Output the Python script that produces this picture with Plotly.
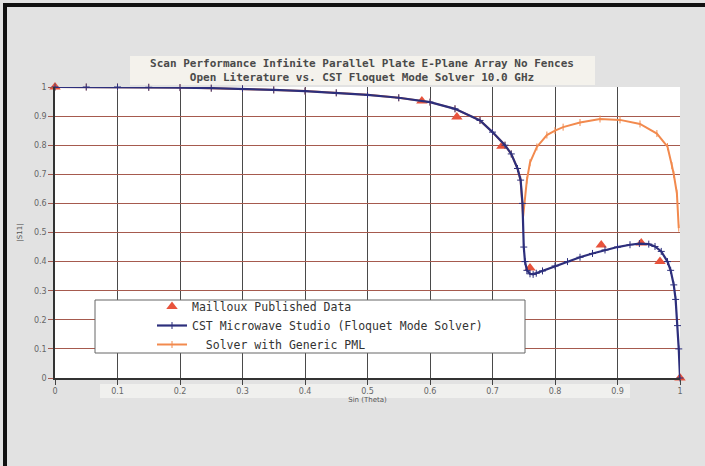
import plotly.graph_objects as go

# ---- data ----
cst_x = [0, 0.05, 0.1, 0.15, 0.2, 0.25, 0.3, 0.35, 0.4, 0.45, 0.5, 0.55, 0.6, 0.64,
         0.68, 0.7, 0.72, 0.73, 0.74, 0.745, 0.748, 0.75, 0.752, 0.755, 0.76, 0.765,
         0.77, 0.78, 0.8, 0.82, 0.84, 0.86, 0.88, 0.9, 0.92, 0.935, 0.95, 0.96, 0.97,
         0.98, 0.985, 0.99, 0.993, 0.996, 0.998, 1.0]
cst_y = [1.0, 1.0, 1.0, 0.999, 0.998, 0.996, 0.994, 0.99, 0.986, 0.98, 0.973, 0.963,
         0.948, 0.925, 0.885, 0.845, 0.80, 0.77, 0.72, 0.68, 0.60, 0.45, 0.40, 0.37,
         0.358, 0.356, 0.36, 0.368, 0.385, 0.40, 0.415, 0.428, 0.44, 0.45, 0.458,
         0.462, 0.46, 0.452, 0.435, 0.40, 0.37, 0.32, 0.27, 0.18, 0.1, 0.0]

pml_x = [0, 0.05, 0.1, 0.15, 0.2, 0.25, 0.3, 0.35, 0.4, 0.45, 0.5, 0.55, 0.6, 0.64,
         0.68, 0.7, 0.72, 0.73, 0.74, 0.745, 0.749, 0.755, 0.76, 0.771, 0.787, 0.8,
         0.813, 0.84, 0.872, 0.904, 0.936, 0.963, 0.98, 0.987, 0.99, 0.995, 0.998]
pml_y = [1.0, 1.0, 1.0, 0.999, 0.998, 0.996, 0.994, 0.99, 0.986, 0.98, 0.973, 0.963,
         0.948, 0.925, 0.885, 0.845, 0.80, 0.77, 0.72, 0.68, 0.555, 0.68, 0.74, 0.794,
         0.835, 0.85, 0.862, 0.878, 0.89, 0.887, 0.873, 0.84, 0.795, 0.73, 0.70,
         0.635, 0.515]

mail_x = [0.0, 0.587, 0.643, 0.715, 0.76, 0.874, 0.938, 0.968, 1.0]
mail_y = [1.0, 0.952, 0.897, 0.796, 0.378, 0.457, 0.464, 0.40, 0.0]

x_ticks = [0, 0.1, 0.2, 0.3, 0.4, 0.5, 0.6, 0.7, 0.8, 0.9, 1]
x_tick_labels = ["0", "0.1", "0.2", "0.3", "0.4", "0.5", "0.6", "0.7", "0.8", "0.9", "1"]
y_ticks = [0, 0.1, 0.2, 0.3, 0.4, 0.5, 0.6, 0.7, 0.8, 0.9, 1]
y_tick_labels = ["0", "0.1", "0.2", "0.3", "0.4", "0.5", "0.6", "0.7", "0.8", "0.9", "1"]

title_lines = ["Scan Performance Infinite Parallel Plate E-Plane Array No Fences",
               "Open Literature vs. CST Floquet Mode Solver 10.0 GHz"]

# ---- figure ----
W, H = 705, 466
L, R, T, B = 55, 25, 87, 88
pw, ph = W - L - R, H - T - B


def px(p):
    return (p - L) / pw


def py(p):
    return (H - B - p) / ph


fig = go.Figure()

fig.add_trace(go.Scatter(
    x=mail_x, y=mail_y, mode="markers", name="Mailloux Published Data",
    marker=dict(symbol="triangle-up", size=10, color="#e8533c"),
    cliponaxis=False))

fig.add_trace(go.Scatter(
    x=pml_x, y=pml_y, mode="lines+markers", name="Solver with Generic PML",
    line=dict(color="#f28a4e", width=2),
    marker=dict(symbol="line-ns", size=5, line=dict(color="#f28a4e", width=1)),
    cliponaxis=False, showlegend=False))

fig.add_trace(go.Scatter(
    x=cst_x, y=cst_y, mode="lines+markers",
    name="CST Microwave Studio (Floquet Mode Solver)",
    line=dict(color="#2d2f7c", width=2.2),
    marker=dict(symbol="cross-thin", size=5, line=dict(color="#2d2f7c", width=1)),
    cliponaxis=False))

# legend entry for PML in reference order
fig.add_trace(go.Scatter(
    x=[None], y=[None], mode="lines+markers", name="\u00a0\u00a0Solver with Generic PML",
    line=dict(color="#f28a4e", width=2),
    marker=dict(symbol="line-ns", size=5, line=dict(color="#f28a4e", width=1))))

shapes = [
    # legend box
    dict(type="rect", xref="paper", yref="paper", x0=px(95), x1=px(525),
         y0=py(353), y1=py(300), line=dict(color="#666666", width=1),
         fillcolor="white", layer="above"),
    # black frame left/top
    dict(type="line", xref="paper", yref="paper", x0=px(5), x1=px(5),
         y0=py(466), y1=py(4), line=dict(color="#111111", width=4)),
    dict(type="line", xref="paper", yref="paper", x0=px(3), x1=px(705),
         y0=py(5), y1=py(5), line=dict(color="#111111", width=4)),
    # light panel around the chart
    dict(type="rect", xref="paper", yref="paper", x0=px(130), x1=px(595),
         y0=py(85), y1=py(56), line=dict(width=0), fillcolor="#f4f2ec", layer="below"),
    dict(type="rect", xref="paper", yref="paper", x0=px(100), x1=px(630),
         y0=py(398), y1=py(384), line=dict(width=0), fillcolor="#f0f0ee", layer="below"),
]

fig.update_layout(
    width=W, height=H,
    margin=dict(l=L, r=R, t=T, b=B),
    paper_bgcolor="#e2e2e2",
    plot_bgcolor="white",
    shapes=shapes,
    title=dict(text="<b>" + title_lines[0] + "<br>" + title_lines[1] + "</b>",
               xref="container", yref="container",
               x=362 / W, xanchor="center", y=1 - 67 / H, yanchor="top",
               font=dict(family="DejaVu Sans Mono", size=11, color="#4a4a4a")),
    showlegend=True,
    legend=dict(x=px(152), y=py(292), xanchor="left", yanchor="top",
                bgcolor="rgba(0,0,0,0)", borderwidth=0,
                font=dict(family="DejaVu Sans Mono", size=11.5, color="#333333"),
                itemwidth=30, tracegroupgap=0),
    font=dict(family="DejaVu Sans", color="#555555"),
)

fig.update_xaxes(
    range=[0, 1], tickvals=x_ticks, ticktext=x_tick_labels,
    showgrid=True, gridcolor="#4a4a4a", gridwidth=1.2,
    zeroline=False, showline=True, linecolor="#333333", linewidth=1.5,
    ticks="outside", ticklen=5, tickcolor="#444444",
    tickfont=dict(size=8, color="#666666"),
    title=dict(text="Sin (Theta)", font=dict(size=7, color="#555555"), standoff=2),
)
fig.update_yaxes(
    range=[0, 1], tickvals=y_ticks, ticktext=y_tick_labels,
    showgrid=True, gridcolor="#a65a4e", gridwidth=1.2,
    zeroline=False, showline=True, linecolor="#333333", linewidth=1.5,
    ticks="outside", ticklen=5, tickcolor="#a65a4e",
    tickfont=dict(size=8, color="#666666"),
    title=dict(text="|S11|", font=dict(size=7, color="#555555"), standoff=10),
)

fig.write_html("out.html", config={"displayModeBar": False},
               post_script="document.body.style.margin='0';document.body.style.overflow='hidden';")
